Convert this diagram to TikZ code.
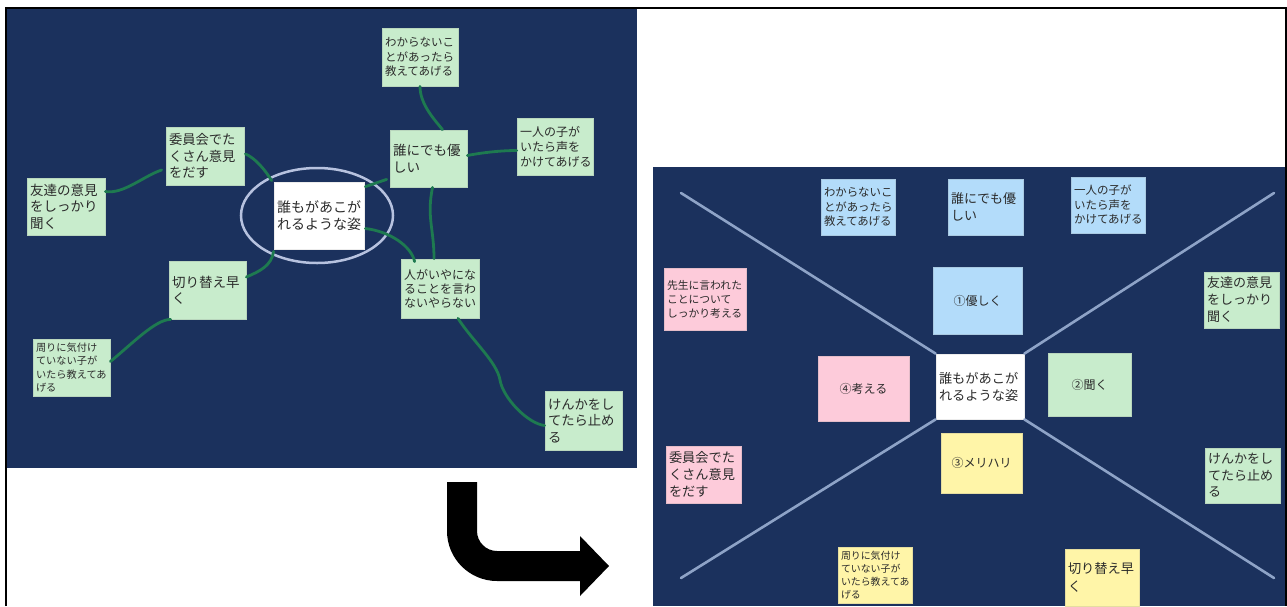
\documentclass[tikz,border=0pt]{standalone}
\usepackage{fontspec}
\newfontfamily\jp{Noto Sans CJK JP}
\usetikzlibrary{calc,shapes.geometric}
\definecolor{navy}{HTML}{1B315D}
\definecolor{gfill}{HTML}{C8ECCC}
\definecolor{bfill}{HTML}{B3DCFA}
\definecolor{pfill}{HTML}{FDCBDA}
\definecolor{yfill}{HTML}{FFF5A8}
\definecolor{conn}{HTML}{1E7A50}
\definecolor{ringc}{HTML}{B7C2DF}
\definecolor{diagc}{HTML}{8EA3C7}
\definecolor{txt}{HTML}{2B2B2B}
\tikzset{
  fs/.style 2 args={font=\jp\fontsize{#1}{#2}\selectfont},
  base/.style={rectangle, inner xsep=3pt, inner ysep=0pt, align=left, text=txt, line width=0.8pt},
  gnote/.style={base, fill=gfill, draw=gfill!80!gray},
  bnote/.style={base, fill=bfill, draw=bfill!80!gray},
  pnote/.style={base, fill=pfill, draw=pfill!80!gray},
  ynote/.style={base, fill=yfill, draw=yfill!80!gray},
  wnote/.style={base, fill=white, draw=white!85!gray},
  qnote/.style={align=center},
  link/.style={draw=conn, line width=2.8pt, line cap=round},
  diag/.style={draw=diagc, line width=2.6pt, line cap=round},
}
\begin{document}
\begin{tikzpicture}[x=1pt,y=-1pt]
\useasboundingbox (0,0) rectangle (1287,606);
\fill[white] (0,0) rectangle (1287,606);
\fill[navy] (7,9) rectangle (637,468);
\fill[navy] (653,167) rectangle (1285,606);
\draw[black, line width=2pt] (5.5,606) -- (5.5,8) -- (1285.5,8) -- (1285.5,606);

% ---------- left panel ----------
\node[draw=ringc, line width=2.5pt, ellipse, minimum width=152pt, minimum height=95pt] (ring) at (317,215.5) {};

\node[gnote, fs={11.5}{14.5}, text width=70pt, minimum height=58pt] (Lwak) at (420,57) {わからないこ\\とがあったら\\教えてあげる};
\node[gnote, fs={13.5}{17}, text width=71pt, minimum height=57pt] (Lyasa) at (428.5,158.5) {誰にでも優\\しい};
\node[gnote, fs={12}{15}, text width=70pt, minimum height=57pt] (Lhito) at (555,146.5) {一人の子が\\いたら声を\\かけてあげる};
\node[gnote, fs={13.3}{16.5}, text width=72pt, minimum height=58pt] (Liin) at (205,156) {委員会でた\\くさん意見\\をだす};
\node[gnote, fs={13.5}{16.5}, text width=72pt, minimum height=57pt] (Ltomo) at (66,206.5) {友達の意見\\をしっかり\\聞く};
\node[wnote, fs={14}{16.5}, text width=84pt, minimum height=67pt] (Lctr) at (319,215.5) {誰もがあこが\\れるような姿};
\node[gnote, fs={13.5}{16}, text width=71pt, minimum height=58pt] (Lkiri) at (207.5,290) {切り替え早\\く};
\node[gnote, fs={12}{14}, text width=72pt, minimum height=59pt] (Liya) at (440,288.5) {人がいやにな\\ることを言わ\\ないやらない};
\node[gnote, fs={10.2}{13.3}, text width=71pt, minimum height=57pt] (Lmawa) at (71.5,367.5) {周りに気付け\\ていない子が\\いたら教えてあ\\げる};
\node[gnote, fs={13.3}{16.5}, text width=71pt, minimum height=59pt] (Lken) at (583.5,420.5) {けんかをし\\てたら止め\\る};

\coordinate (kmid) at (500,380);
\draw[link] (Lwak.south) .. controls +(0,18) and +(-8,-10) .. ($(Lyasa.north)+(14,0)$);
\draw[link] ($(Lyasa.east)+(0,-3)$) .. controls +(15,-3) and +(-15,0) .. ($(Lhito.west)+(0,4)$);
\draw[link] ($(Lyasa.south)+(4,0)$) .. controls +(-6,30) and +(0,-30) .. ($(Liya.north)+(-6,0)$);
\draw[link] ($(Lyasa.south west)+(-3,-8)$) -- ($(Lctr.north east)+(1,5)$);
\draw[link] ($(Lctr.east)+(1,13)$) .. controls +(25,3) and +(-3,-15) .. ($(Liya.north west)+(14,3)$);
\draw[link] ($(Liin.east)+(1,-2)$) .. controls +(10,4) and +(-6,-10) .. ($(Lctr.north west)+(-2,-1)$);
\draw[link] ($(Liin.west)+(-4,14)$) .. controls +(-18,6) and +(18,3) .. ($(Ltomo.east)+(0,-15)$);
\draw[link] ($(Lctr.south west)+(0,2)$) .. controls +(-2,14) and +(14,-6) .. ($(Lkiri.east)+(0,-13)$);
\draw[link] ($(Lkiri.south west)+(2,0)$) .. controls +(-15,0) and +(22,-18) .. ($(Lmawa.east)+(0,-6)$);
\draw[link] ($(Liya.south)+(18,0)$) .. controls +(14,22) and +(-3,-18) .. (kmid) .. controls +(3,18) and +(-17,-2) .. ($(Lken.west)+(0,5)$);

% ---------- arrow ----------
\fill[black] (447,482) -- (447,531) .. controls (447,558.6) and (469.4,581) .. (497,581) -- (580,581) -- (580,596) -- (609,566) -- (580,536) -- (580,551) -- (497,551) .. controls (486,551) and (477,542) .. (477,531) -- (477,482) -- cycle;

% ---------- right panel ----------
\coordinate (d1) at (681,193);
\coordinate (d2) at (1274,193);
\coordinate (d3) at (681,578);
\coordinate (d4) at (1274,578);
\node[wnote, fs={13.2}{17}, text width=82pt, minimum height=65pt] (Rctr) at (980,386.5) {誰もがあこが\\れるような姿};
\draw[diag] (d1) -- (Rctr.north west);
\draw[diag] (d2) -- (Rctr.north east);
\draw[diag] (d3) -- (Rctr.south west);
\draw[diag] (d4) -- (Rctr.south east);

\node[bnote, fs={11.4}{14.5}, text width=68pt, minimum height=56pt] (Rwak) at (858,207) {わからないこ\\とがあったら\\教えてあげる};
\node[bnote, fs={13}{17}, text width=69pt, minimum height=56pt] (Ryasa) at (985.5,207) {誰にでも優\\しい};
\node[bnote, fs={11.5}{14.5}, text width=68pt, minimum height=56pt] (Rhito) at (1108,205) {一人の子が\\いたら声を\\かけてあげる};
\node[pnote, fs={10.8}{14}, text width=76pt, minimum height=62pt] (Rsen) at (705,299) {先生に言われた\\ことについて\\しっかり考える};
\node[bnote, qnote, fs={12}{15}, text width=83pt, minimum height=67pt] (Rq1) at (977.5,300.5) {①優しく};
\node[gnote, fs={13}{17}, text width=69pt, minimum height=56pt] (Rtomo) at (1241.5,300) {友達の意見\\をしっかり\\聞く};
\node[pnote, qnote, fs={12}{15}, text width=85pt, minimum height=65pt] (Rq4) at (863.5,388.5) {④考える};
\node[gnote, qnote, fs={12}{15}, text width=77pt, minimum height=63pt] (Rq2) at (1089.5,384.5) {②聞く};
\node[pnote, fs={13.2}{17}, text width=69pt, minimum height=57pt] (Riin) at (703.5,474.5) {委員会でた\\くさん意見\\をだす};
\node[ynote, qnote, fs={12}{15}, text width=75pt, minimum height=60pt] (Rq3) at (981.5,463) {③メリハリ};
\node[gnote, fs={13}{16.5}, text width=69pt, minimum height=55pt] (Rken) at (1242.5,475.5) {けんかをし\\てたら止め\\る};
\node[ynote, fs={9.9}{12.8}, text width=68pt, minimum height=56pt] (Rmawa) at (875,575) {周りに気付け\\ていない子が\\いたら教えてあ\\げる};
\node[ynote, fs={13.2}{18}, text width=68pt, minimum height=57pt] (Rkiri) at (1102,577.5) {切り替え早\\く};
\end{tikzpicture}
\end{document}
